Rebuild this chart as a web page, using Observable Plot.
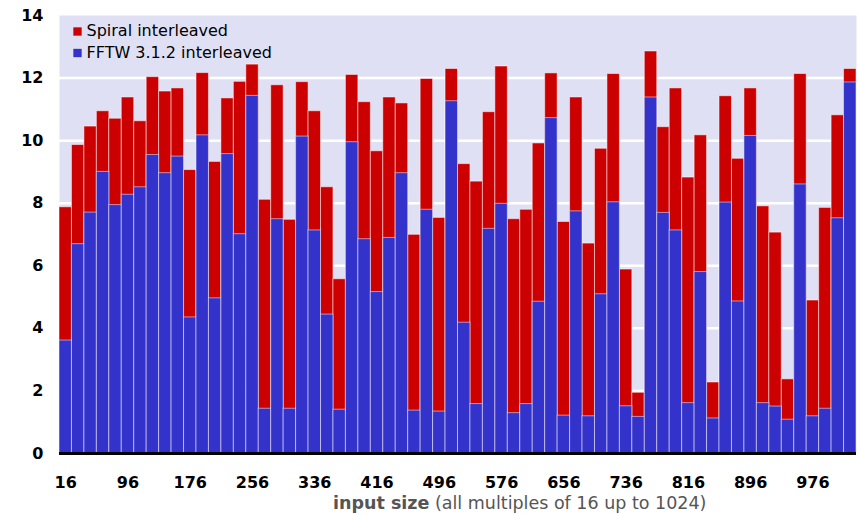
<!DOCTYPE html>
<html>
<head>
<meta charset="utf-8">
<script src="https://cdn.jsdelivr.net/npm/d3@7"></script>
<script src="https://cdn.jsdelivr.net/npm/@observablehq/plot@0.6"></script>
<style>
  html, body { margin: 0; padding: 0; background: white; }
  #wrap { position: relative; width: 858px; height: 514px; }
  #xtitle { position: absolute; left: 333px; top: 493px; font-family: "DejaVu Sans", sans-serif; font-size: 17.5px; line-height: 1.164; color: #555; white-space: nowrap; }
</style>
</head>
<body>
<div id="wrap"><div id="xtitle"><b>input size</b> (all multiples of 16 up to 1024)</div></div>
<script>
const sizes = [16,32,48,64,80,96,112,128,144,160,176,192,208,224,240,256,272,288,304,320,336,352,368,384,400,416,432,448,464,480,496,512,528,544,560,576,592,608,624,640,656,672,688,704,720,736,752,768,784,800,816,832,848,864,880,896,912,928,944,960,976,992,1008,1024];
const spiral = [7.87,9.86,10.45,10.94,10.70,11.38,10.62,12.03,11.57,11.67,9.06,12.16,9.32,11.35,11.88,12.43,8.11,11.77,7.47,11.87,10.94,8.51,5.57,12.10,11.23,9.66,11.38,11.19,6.99,11.97,7.53,12.29,9.25,8.69,10.91,12.37,7.49,7.79,9.91,12.15,7.40,11.38,6.71,9.74,12.13,5.88,1.94,12.85,10.43,11.67,8.82,10.17,2.27,11.42,9.42,11.67,7.90,7.06,2.37,12.13,4.89,7.85,10.81,12.29];
const fftw = [3.61,6.69,7.70,9.00,7.94,8.27,8.51,9.54,8.96,9.49,4.35,10.17,4.96,9.57,7.01,11.43,1.43,7.49,1.43,10.13,7.13,4.44,1.40,9.95,6.85,5.16,6.89,8.96,1.37,7.79,1.34,11.26,4.18,1.58,7.18,7.98,1.29,1.58,4.85,10.72,1.21,7.74,1.19,5.09,8.03,1.51,1.17,11.38,7.69,7.13,1.61,5.80,1.12,8.02,4.86,10.15,1.61,1.50,1.08,8.60,1.19,1.43,7.52,11.86];
const xTicks = [16,96,176,256,336,416,496,576,656,736,816,896,976];
const yTicks = [0,2,4,6,8,10,12,14];
const seriesNames = ["Spiral interleaved", "FFTW 3.1.2 interleaved"];
const seriesColors = ["#cc0000", "#3333cc"];

const data = sizes.map((s, i) => ({size: s, spiral: spiral[i], fftw: fftw[i]}));
const FONT = '"DejaVu Sans", sans-serif';

const chart = Plot.plot({
  width: 858,
  height: 514,
  marginLeft: 59,
  marginRight: 2,
  marginTop: 15,
  marginBottom: 61,
  style: {fontFamily: FONT, background: "white", color: "black"},
  x: {type: "band", domain: sizes, paddingInner: 0, paddingOuter: 0, round: false},
  y: {domain: [0, 14]},
  marks: [
    Plot.frame({fill: "#e0e0f5", stroke: "none"}),
    Plot.gridY(yTicks.filter(d => d > 0 && d < 14), {stroke: "white", strokeWidth: 2.5, strokeOpacity: 1}),
    Plot.barY(data, {x: "size", y: "spiral", fill: seriesColors[0], stroke: "white", strokeOpacity: 0.5, strokeWidth: 1}),
    Plot.barY(data, {x: "size", y: "fftw", fill: seriesColors[1], stroke: "white", strokeOpacity: 0.5, strokeWidth: 1}),
    Plot.ruleY([0], {stroke: "black", strokeWidth: 3}),
    Plot.dot([seriesNames[0]], {frameAnchor: "top-left", dx: 18, dy: 16, symbol: "square", r: 4.7, fill: seriesColors[0]}),
    Plot.dot([seriesNames[1]], {frameAnchor: "top-left", dx: 18, dy: 37.5, symbol: "square", r: 4.7, fill: seriesColors[1]}),
    Plot.text([seriesNames[0]], {frameAnchor: "top-left", text: d => d, dx: 27, dy: 15.5, textAnchor: "start", lineAnchor: "middle", fontSize: 16, fill: "black"}),
    Plot.text([seriesNames[1]], {frameAnchor: "top-left", text: d => d, dx: 27, dy: 37, textAnchor: "start", lineAnchor: "middle", fontSize: 16, fill: "black"}),
    Plot.axisX({ticks: xTicks, tickSize: 0, tickPadding: 23, label: null, fontSize: 16, fontWeight: "bold", fill: "black"}),
    Plot.axisY({ticks: yTicks, tickSize: 0, tickPadding: 16, label: null, fontSize: 16, fontWeight: "bold", fill: "black"})
  ]
});
document.getElementById("wrap").prepend(chart);
</script>
</body>
</html>
